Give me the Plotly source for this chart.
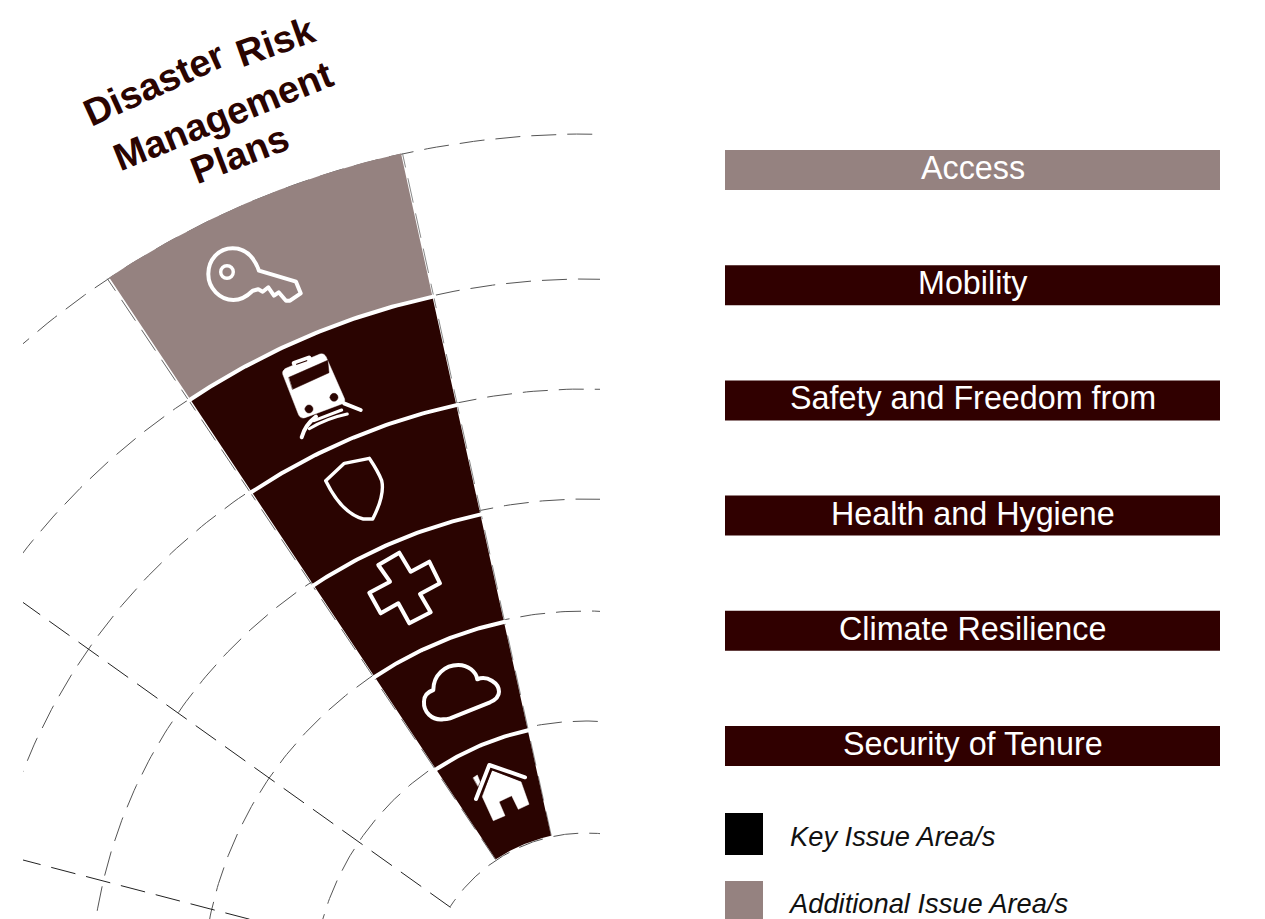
import math
import re
import plotly.graph_objects as go

W, H = 1265, 919

# ---- data -------------------------------------------------------------
issue_areas = ["Access", "Mobility", "Safety and Freedom from", "Health and Hygiene",
               "Climate Resilience", "Security of Tenure"]
bar_values = [1, 1, 1, 1, 1, 1]
issue_kind = ["additional", "key", "key", "key", "key", "key"]
ring_edges = [163, 271, 382, 492, 604, 715, 861.5]        # wedge ring radii, inner to outer
grid_radii = [162, 274, 384, 496, 606, 716, 861]          # dashed rings
grid_arc_end = [57, 90, 90, 90, 90, 90, 90]                # degrees left of north
wedge_angles = [12.4, 33.6]
outer_spoke_angles = [54.5, 75.35]
legend_labels = ["Key Issue Area/s", "Additional Issue Area/s"]
title_words = ["Disaster", "Risk", "Management", "Plans"]
title_rot = [-24.5, -19.5, -22, -21]

# ---- style ------------------------------------------------------------
CX, CY = 586, 995
SPOKE_CX, SPOKE_CY = 593, 1009
DARK, WEDGE_DARK, GREY = "#300000", "#2a0401", "#958280"
ARC_COL, SPOKE_COL = "#555555", "#222222"
DASH = "25px,11px"
FONT = "Liberation Sans, Arial, sans-serif"
colour = {"additional": GREY, "key": WEDGE_DARK}
bar_colour = {"additional": GREY, "key": DARK}


def to_xy(r, a, cx=CX, cy=CY):
    t = math.radians(a)
    return cx - r * math.sin(t), cy - r * math.cos(t)


def arc(r, a0, a1, n=160):
    pts = [to_xy(r, a0 + (a1 - a0) * i / n) for i in range(n + 1)]
    return [p[0] for p in pts], [p[1] for p in pts]


def line_trace(x, y, col, width=1, dash=DASH):
    return go.Scatter(x=x, y=y, mode="lines", hoverinfo="skip", showlegend=False,
                      line=dict(color=col, width=width, dash=dash))


fig = go.Figure()

# dashed grid
for r, end in zip(grid_radii, grid_arc_end):
    x, y = arc(r, -10, end)
    fig.add_trace(line_trace(x, y, ARC_COL))
for a in outer_spoke_angles:
    x0, y0 = to_xy(175, a, SPOKE_CX, SPOKE_CY)
    x1, y1 = to_xy(900, a, SPOKE_CX, SPOKE_CY)
    fig.add_trace(line_trace([x0, x1], [y0, y1], SPOKE_COL))
for a, col in zip([wedge_angles[0] - 0.1, wedge_angles[1] + 0.15], ["#888888", "#666666"]):
    x0, y0 = to_xy(ring_edges[0], a)
    x1, y1 = to_xy(ring_edges[-1], a)
    fig.add_trace(line_trace([x0, x1], [y0, y1], col))

# wedge segments, outer ring first
a0, a1 = wedge_angles
for i, name in enumerate(issue_areas):
    r_out, r_in = ring_edges[-1 - i], ring_edges[-2 - i]
    xo, yo = arc(r_out, a0, a1, 60)
    xi, yi = arc(r_in, a1, a0, 60)
    fig.add_trace(go.Scatter(x=xo + xi, y=yo + yi, mode="lines", fill="toself", name=name,
                             fillcolor=colour[issue_kind[i]], hoverinfo="name", showlegend=False,
                             line=dict(width=0)))
# white separators between segments
for r in ring_edges[1:-1]:
    x, y = arc(r, a0 - 0.3, a1 + 0.3, 60)
    fig.add_trace(line_trace(x, y, "white", 4, "solid"))

# label bars on the right
fig.add_trace(go.Bar(y=issue_areas, x=bar_values, orientation="h", width=40 / 115.2,
                     xaxis="x2", yaxis="y2",
                     marker=dict(color=[bar_colour[k] for k in issue_kind], line=dict(width=0)),
                     hoverinfo="skip", showlegend=False))


# ---- icons (outlines measured in 3x crops of the picture) -------------
def path(ox, oy, d):
    return re.sub(r"(-?[\d.]+),(-?[\d.]+)",
                  lambda m: f"{ox + float(m[1]) / 3:.1f},{oy + float(m[2]) / 3:.1f}", d)


def circle(cx, cy, r):
    k = 0.5523 * r
    return (f"M{cx - r},{cy} C{cx - r},{cy - k} {cx - k},{cy - r} {cx},{cy - r} "
            f"C{cx + k},{cy - r} {cx + r},{cy - k} {cx + r},{cy} "
            f"C{cx + r},{cy + k} {cx + k},{cy + r} {cx},{cy + r} "
            f"C{cx - k},{cy + r} {cx - r},{cy + k} {cx - r},{cy} Z")


shapes = []


def stroke(ox, oy, d, w=3.0, col="white"):
    shapes.append(dict(type="path", xref="x", yref="y", path=path(ox, oy, d),
                       line=dict(color=col, width=w), fillcolor="rgba(0,0,0,0)"))


def solid(ox, oy, d, fill="white"):
    shapes.append(dict(type="path", xref="x", yref="y", path=path(ox, oy, d),
                       line=dict(color=fill, width=0.5), fillcolor=fill))


# key
stroke(190, 230, "M207,122 C190,75 160,55 128,55 C85,55 55,90 55,132 C55,175 90,210 130,210 "
                 "C155,210 172,198 188,182 L205,178 L218,185 L235,172 L252,197 L266,187 L288,212 "
                 "L300,212 L332,190 L318,155 Z", 4)
stroke(190, 230, circle(111, 126, 19), 3.4)
# train
solid(190, 230, "M278,432 Q275,422 288,415 L390,372 Q402,368 408,380 L463,505 Q468,517 455,522 "
                "L345,563 Q332,567 326,555 Z")
solid(190, 230, "M297,442 L413,391 L417,428 L308,478 Z", WEDGE_DARK)
solid(190, 230, circle(357, 537, 12), WEDGE_DARK)
solid(190, 230, circle(432, 502, 12), WEDGE_DARK)
stroke(190, 230, "M313,400 L357,384", 5)
stroke(190, 230, "M320,403 L350,392", 1.2, WEDGE_DARK)
stroke(190, 230, "M335,622 Q345,585 378,560", 4)
stroke(190, 230, "M462,520 L512,540", 4)
stroke(190, 230, "M372,572 L455,540", 3)
stroke(190, 230, "M358,596 Q410,565 472,552", 3)
# shield
stroke(310, 450, "M47,92 L103,40 L178,25 Q205,65 215,92 Q225,135 188,207 L160,207 "
                 "Q95,190 47,92 Z", 3.4)
# cross
stroke(310, 450, "M205,345 L268,308 L302,365 L358,335 L390,400 L330,432 L362,487 L298,520 "
                 "L265,460 L212,490 L178,428 L240,395 Z", 4)
# cloud
stroke(400, 650, "M130,208 C95,212 70,185 72,155 C72,135 85,125 100,120 C100,75 135,45 175,45 "
                 "C205,45 228,65 232,88 C262,75 297,100 297,125 C297,140 285,150 270,157 "
                 "L150,205 Q140,208 130,208 Z", 4)
# house
solid(400, 650, "M275,360 L363,395 L387,463 L355,478 L335,437 L297,455 L315,497 L280,512 L247,440 Z")
solid(400, 650, "M220,383 L232,375 L240,395 L234,408 Z")
stroke(400, 650, "M240,440 L274,356 L370,392", 3, WEDGE_DARK)
stroke(400, 650, "M228,447 L268,345 L375,382", 4)

# legend swatches
for (y0, y1), c in zip([(813, 855), (881, 919)], ["#000000", GREY]):
    shapes.append(dict(type="rect", xref="paper", yref="paper", x0=725 / W, x1=763 / W,
                       y0=1 - y1 / H, y1=1 - y0 / H, fillcolor=c, line=dict(width=0)))

annotations = []
for name in issue_areas:
    annotations.append(dict(xref="x2", yref="y2", x=0.5, y=name, text=name, showarrow=False,
                            xanchor="center", yanchor="middle", yshift=2,
                            font=dict(family=FONT, size=32.3, color="white")))
for label, yc, tx in zip(legend_labels, [836, 903], [787.5, 786]):
    annotations.append(dict(xref="paper", yref="paper", x=tx / W, y=1 - yc / H, text=label,
                            showarrow=False, xanchor="left", yanchor="middle",
                            font=dict(family=FONT, size=27.3, color="#111111", style="italic")))
title_pos = [(154, 84), (275, 42), (223, 116), (240, 154)]
for word, (tx, ty), rot in zip(title_words, title_pos, title_rot):
    annotations.append(dict(xref="paper", yref="paper", x=tx / W, y=1 - ty / H, text=f"<b>{word}</b>",
                            showarrow=False, xanchor="center", yanchor="middle", textangle=rot,
                            font=dict(family=FONT, size=38, color=WEDGE_DARK)))

fig.update_layout(
    width=W, height=H, margin=dict(l=0, r=0, t=0, b=0), paper_bgcolor="white", plot_bgcolor="white",
    showlegend=False, hovermode=False, shapes=shapes, annotations=annotations,
    xaxis=dict(domain=[23 / W, 600 / W], range=[23, 600], visible=False, fixedrange=True),
    yaxis=dict(domain=[0, 1], range=[H, 0], visible=False, fixedrange=True),
    xaxis2=dict(domain=[725 / W, 1220 / W], range=[0, 1], visible=False, anchor="y2", fixedrange=True),
    yaxis2=dict(domain=[1 - 803.6 / H, 1 - 112.4 / H], autorange="reversed", visible=False,
                anchor="x2", type="category", fixedrange=True),
)
fig.write_html(
    "out.html",
    post_script="document.body.style.margin='0';"
                "document.querySelectorAll('.shapelayer path').forEach(function(p){"
                "p.style.strokeLinejoin='round';p.style.strokeLinecap='round';});",
    config={"displayModeBar": False},
)
